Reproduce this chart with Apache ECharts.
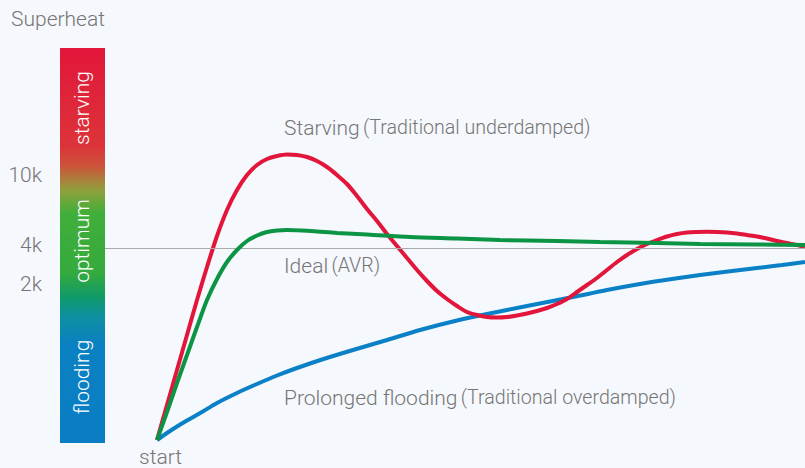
<!DOCTYPE html>
<html><head><meta charset="utf-8">
<script src="https://cdn.jsdelivr.net/npm/echarts@6/dist/echarts.min.js"></script>
<style>html,body{margin:0;padding:0;background:#f5f8fc}#c{width:805px;height:468px}</style>
</head><body><div id="c"></div>
<script>
// time (x) vs superheat level (y)
const starving = [[0,0],[10,35],[20,70],[30,105],[40,140],[50,173],[60,204],[70,230],[80,250],[90,265],[100,275],[110,281],[120,284],[130,285.5],[140,285],[150,283],[160,279],[170,273],[180,265],[190,256],[200,244],[210,231],[220,219],[230,206],[240,194],[250,182],[260,170],[270,159],[280,149],[290,141],[300,134],[310,128],[320,125],[330,123],[340,122.5],[350,123],[360,124.5],[370,126.5],[380,129],[390,132],[400,136],[410,141],[420,148],[430,155],[440,162],[450,170],[460,178],[470,185],[480,191],[490,196],[500,200],[510,203.5],[520,206],[530,207.5],[540,208],[550,208.2],[560,208],[570,207.5],[580,206.5],[590,205],[600,203.5],[610,201.5],[620,199],[630,197],[640,195],[648,193]];
const ideal = [[0,0],[10,28],[20,57],[30,85],[40,113],[50,140],[60,161],[70,178],[80,190],[90,199],[100,204.5],[110,208],[120,209.5],[130,210],[145,209.5],[160,208.5],[180,207],[210,205.5],[253,203],[300,201.5],[343,200],[400,199],[443,198],[500,197],[543,196],[600,195.5],[648,195]];
const flooding = [[0,0],[10,7],[20,13.5],[30,19.5],[45,28],[60,37],[80,47],[100,56],[120,64.5],[140,72],[165,80.5],[196,90],[230,100],[263,110],[300,119.5],[330,126],[370,134],[416,143],[450,150],[483,156],[515,161],[543,165],[575,169],[600,172],[625,175],[648,178]];
const tickValues = [156, 195, 265];
const tickLabels = ['2k', '4k', '10k'];
const targetLevel = 192;
const zoneNames = ['starving', 'optimum', 'flooding'];

const chart = echarts.init(document.getElementById('c'), null, {renderer: 'svg'});
const grey = '#757575';
const font = 'Roboto';
const zoneFont = '300 21px Roboto';
const rich = {
  a: {fill: grey, fontSize: 21, fontFamily: font, fontWeight: 300},
  b: {fill: grey, fontSize: 19.6, fontFamily: font, fontWeight: 300}
};
chart.setOption({
  backgroundColor: '#f5f8fc',
  animation: false,
  grid: {left: 105, right: 0, top: 48, bottom: 28},
  xAxis: {type: 'value', min: -52, max: 648, show: false},
  yAxis: {
    type: 'value', min: 0, max: 392,
    splitLine: {show: false}, axisLine: {show: false}, axisTick: {show: false},
    axisLabel: {
      customValues: tickValues, margin: 63,
      formatter: v => tickLabels[tickValues.indexOf(v)] || '',
      color: grey, fontSize: 21, fontFamily: font, fontWeight: 300
    }
  },
  graphic: [
    {type: 'rect', shape: {x: 60, y: 48, width: 45, height: 395}, z: 0,
     style: {fill: new echarts.graphic.LinearGradient(0, 0, 0, 1, [
       {offset: 0, color: '#e2163a'},
       {offset: 0.25, color: '#dc343a'},
       {offset: 0.30, color: '#cc553a'},
       {offset: 0.36, color: '#90a03c'},
       {offset: 0.42, color: '#40ae3a'},
       {offset: 0.57, color: '#35aa3d'},
       {offset: 0.63, color: '#0f9a68'},
       {offset: 0.68, color: '#0e8fa0'},
       {offset: 0.75, color: '#0a81c2'},
       {offset: 1, color: '#0a7dc4'}])}},
    {type: 'text', x: 82, y: 108, rotation: Math.PI/2, z: 2,
     style: {text: zoneNames[0], fill: '#fff', font: zoneFont, align: 'center', verticalAlign: 'middle'}},
    {type: 'text', x: 82, y: 241, rotation: Math.PI/2, z: 2,
     style: {text: zoneNames[1], fill: '#fff', font: zoneFont, align: 'center', verticalAlign: 'middle'}},
    {type: 'text', x: 82, y: 377, rotation: Math.PI/2, z: 2,
     style: {text: zoneNames[2], fill: '#fff', font: zoneFont, align: 'center', verticalAlign: 'middle'}},
    {type: 'text', left: 11, top: 8,
     style: {text: 'Superheat', fill: grey, font: '300 21px Roboto'}},
    {type: 'text', left: 139, top: 446,
     style: {text: 'start', fill: grey, font: '300 21px Roboto'}},
    {type: 'text', left: 284, top: 117,
     style: {text: '{a|Starving} {b|(Traditional underdamped)}', rich: rich}},
    {type: 'text', left: 284, top: 255,
     style: {text: '{a|Ideal} {b|(AVR)}', rich: rich}},
    {type: 'text', left: 284, top: 387,
     style: {text: '{a|Prolonged flooding} {b|(Traditional overdamped)}', rich: rich}}
  ],
  series: [
    {type: 'line', name: 'Prolonged flooding', data: flooding, smooth: 0.3, showSymbol: false,
     lineStyle: {color: '#0a80c6', width: 4}, z: 3},
    {type: 'line', name: 'Starving', data: starving, smooth: 0.3, showSymbol: false,
     lineStyle: {color: '#e2163a', width: 4}, z: 4},
    {type: 'line', name: 'Ideal', data: ideal, smooth: 0.3, showSymbol: false,
     lineStyle: {color: '#0b9444', width: 4}, z: 5,
     markLine: {silent: true, symbol: 'none', label: {show: false},
       lineStyle: {color: '#aaaaaa', width: 1, type: 'solid'},
       data: [[{coord: [-52, targetLevel]}, {coord: [648, targetLevel]}]]}}
  ]
});
</script></body></html>
